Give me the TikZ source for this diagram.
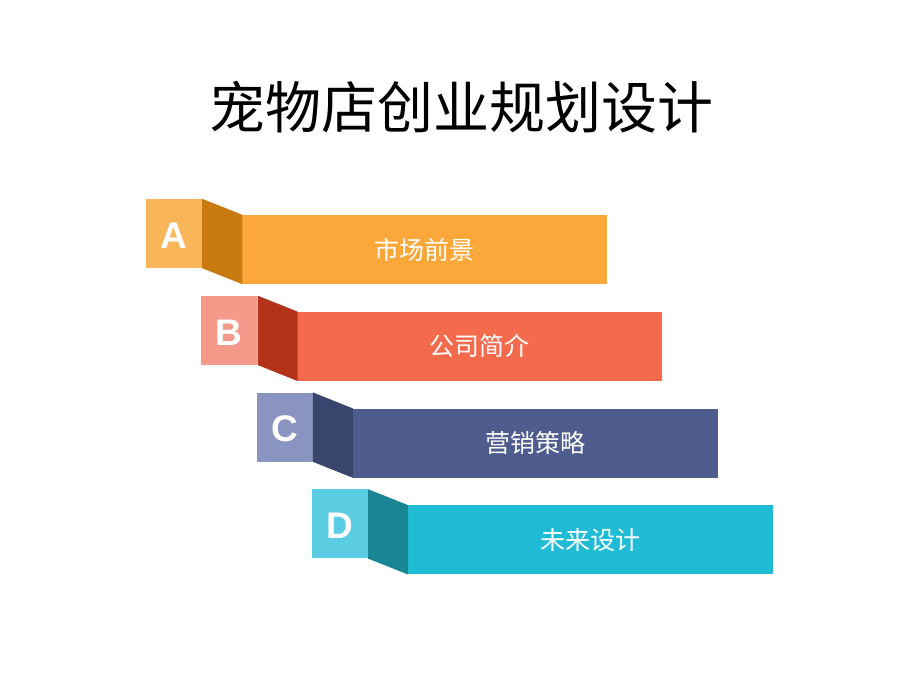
\documentclass[tikz,border=0pt]{standalone}
\usepackage{fontspec}
\setmainfont{Liberation Sans}
\newfontfamily\cjk{Noto Sans CJK SC}
\definecolor{sqA}{HTML}{F8B55A}\definecolor{fdA}{HTML}{C97A10}\definecolor{brA}{HTML}{FBA73A}
\definecolor{sqB}{HTML}{F5998A}\definecolor{fdB}{HTML}{B2331A}\definecolor{brB}{HTML}{F46A4C}
\definecolor{sqC}{HTML}{8A94C0}\definecolor{fdC}{HTML}{38466E}\definecolor{brC}{HTML}{4F5C8E}
\definecolor{sqD}{HTML}{5ACDE3}\definecolor{fdD}{HTML}{1A8593}\definecolor{brD}{HTML}{20BCD6}
\tikzset{
  titletext/.style={font=\cjk\fontsize{56}{60}\selectfont, text=black, inner sep=0pt},
  letterbox/.style={rectangle, inner sep=0pt, minimum width=56pt, minimum height=69pt},
  lettertext/.style={text=white, font=\bfseries\fontsize{37}{40}\selectfont, inner sep=0pt},
  barbox/.style={rectangle, inner sep=0pt, minimum width=365pt, minimum height=69pt,
    text=white, font=\cjk\fontsize{25}{28}\selectfont},
}
\begin{document}
\begin{tikzpicture}[x=1pt,y=-1pt]
\useasboundingbox (0,0) rectangle (920,690);
\fill[white] (0,0) rectangle (920,690);
\node[titletext] (title) at (461,107) {宠物店创业规划设计};
\foreach \i/\L/\t in {0/A/市场前景,1/B/公司简介,2/C/营销策略,3/D/未来设计}{
  \pgfmathsetmacro{\dx}{55.3*\i}
  \pgfmathsetmacro{\dy}{96.8*\i}
  \node[letterbox, fill=sq\L] (sq\L) at (174+\dx,233.5+\dy) {};
  \node[barbox, fill=br\L] (bar\L) at (424.5+\dx,249.5+\dy) {\t};
  \fill[fd\L] (sq\L.north east) -- ([xshift=0.5pt]bar\L.north west) -- ([xshift=0.5pt]bar\L.south west) -- (sq\L.south east) -- cycle;
  \node[lettertext] (lt\L) at ([yshift=-2pt]sq\L.center) {\L};
}
\end{tikzpicture}
\end{document}
